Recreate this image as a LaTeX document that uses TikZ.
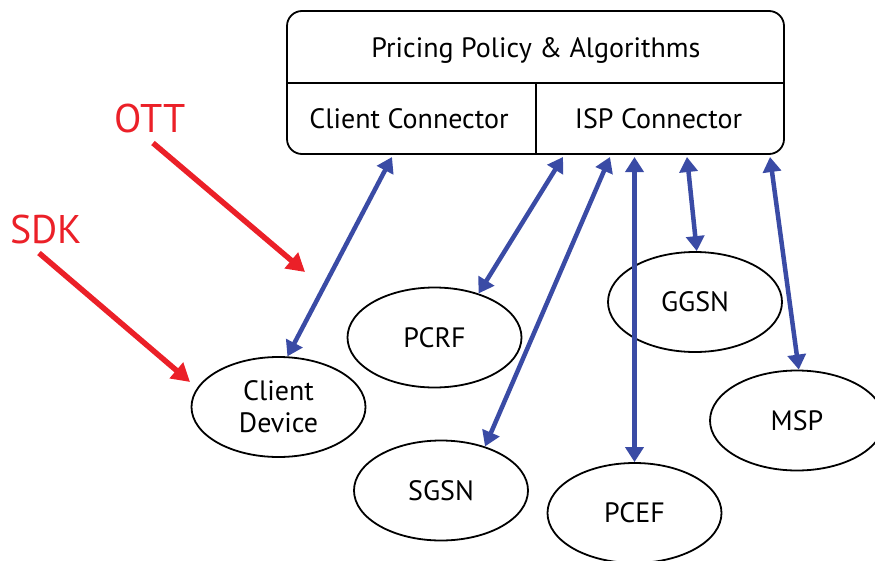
\documentclass[tikz,border=0pt]{standalone}
\usepackage{fontspec}
\setmainfont{PT Sans}
\usetikzlibrary{arrows.meta,shapes.geometric}
\definecolor{linkblue}{RGB}{58,75,165}
\definecolor{tagred}{RGB}{235,32,40}
\begin{document}
\begin{tikzpicture}[x=1pt,y=-1pt,
  ell/.style={draw,line width=1.8pt,ellipse,minimum width=174pt,minimum height=100pt,inner sep=0pt,font=\fontsize{28}{32}\selectfont,align=center},
  link/.style={draw=linkblue,line width=4.5pt,{Triangle[length=15pt,width=18pt]}-{Triangle[length=15pt,width=18pt]}},
  tag/.style={text=tagred,font=\fontsize{40}{44}\selectfont,anchor=base,inner sep=0pt},
  tagarrow/.style={draw=tagred,line width=5.5pt,-{Triangle[length=18pt,width=20pt]}},
  lbl/.style={font=\fontsize{28}{32}\selectfont,anchor=base,inner sep=0pt},
  frame/.style={draw,line width=1.8pt}]
\useasboundingbox (0,0) rectangle (875,560);
% main box
\node[frame,rounded corners=15pt,minimum width=497pt,minimum height=143pt,inner sep=0pt] (box) at (535.5,82.5) {};
\coordinate (hl) at (287,83);
\coordinate (hr) at (784,83);
\coordinate (vt) at (536,83);
\coordinate (vb) at (536,154);
\draw[frame] (hl) -- (hr);
\draw[frame] (vt) -- (vb);
\node[lbl] (pp) at (536,57) {Pricing Policy \& Algorithms};
\node[lbl] (cc) at (409,128) {Client Connector};
\node[lbl] (ic) at (658.5,128) {ISP Connector};
% ellipses
\node[ell] (cd) at (278.5,407) {Client\\Device};
\node[ell] (pcrf) at (434.5,337.5) {PCRF};
\node[ell] (sgsn) at (441,490.5) {SGSN};
\node[ell] (ggsn) at (695,302) {GGSN};
\node[ell] (pcef) at (634.5,513) {PCEF};
\node[ell] (msp) at (797,420.5) {MSP};
% red tags
\node[tag] (ott) at (150,132) {OTT};
\node[tag] (sdk) at (46,243) {SDK};
\coordinate (ottS) at (153,143);
\coordinate (ottE) at (305,272);
\coordinate (sdkS) at (39,253);
\coordinate (sdkE) at (190,382);
\draw[tagarrow] (ottS) -- (ottE);
\draw[tagarrow] (sdkS) -- (sdkE);
% connector points on box
\coordinate (p1) at (392,157);
\coordinate (p2) at (563,157);
\coordinate (p3) at (610,157);
\coordinate (p4) at (634.5,157);
\coordinate (p5) at (687,157);
\coordinate (p6) at (770,157);
\draw[link] (p1) -- (cd.80);
\draw[link] (p2) -- (pcrf.45.6);
\draw[link] (p3) -- (sgsn.45.3);
\draw[link] (p4) -- (pcef.90);
\draw[link] (p5) -- (ggsn.88);
\draw[link] (p6) -- (msp.88);
\end{tikzpicture}
\end{document}
